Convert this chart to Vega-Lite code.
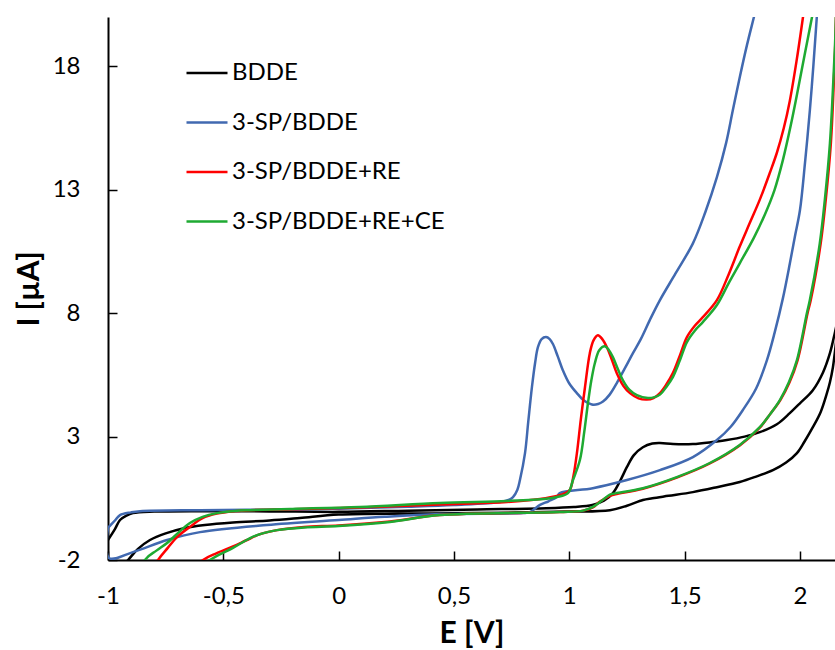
{
  "$schema": "https://vega.github.io/schema/vega-lite/v6.json",
  "width": 727,
  "height": 543,
  "autosize": {"type": "none"},
  "padding": {"left": 108, "top": 17, "right": 0, "bottom": 90},
  "background": "white",
  "config": {"view": {"stroke": null}, "font": "Lato"},
  "datasets": {
    "cv": [
      {"s":"BDDE","i":0,"E":-1.0,"I":-1.19},{"s":"BDDE","i":1,"E":-0.97,"I":-0.75},{"s":"BDDE","i":2,"E":-0.948,"I":-0.38},{"s":"BDDE","i":3,"E":-0.92,"I":-0.2},{"s":"BDDE","i":4,"E":-0.892,"I":-0.1},{"s":"BDDE","i":5,"E":-0.8,"I":-0.04},{"s":"BDDE","i":6,"E":-0.6,"I":-0.02},{"s":"BDDE","i":7,"E":-0.3,"I":-0.03},{"s":"BDDE","i":8,"E":0.0,"I":-0.05},{"s":"BDDE","i":9,"E":0.3,"I":0.0},{"s":"BDDE","i":10,"E":0.6,"I":0.05},{"s":"BDDE","i":11,"E":0.9,"I":0.1},{"s":"BDDE","i":12,"E":1.02,"I":0.15},{"s":"BDDE","i":13,"E":1.1,"I":0.23},{"s":"BDDE","i":14,"E":1.15,"I":0.4},{"s":"BDDE","i":15,"E":1.189,"I":0.71},{"s":"BDDE","i":16,"E":1.22,"I":1.2},{"s":"BDDE","i":17,"E":1.25,"I":1.77},{"s":"BDDE","i":18,"E":1.28,"I":2.25},{"s":"BDDE","i":19,"E":1.319,"I":2.57},{"s":"BDDE","i":20,"E":1.36,"I":2.72},{"s":"BDDE","i":21,"E":1.393,"I":2.74},{"s":"BDDE","i":22,"E":1.45,"I":2.7},{"s":"BDDE","i":23,"E":1.536,"I":2.7},{"s":"BDDE","i":24,"E":1.62,"I":2.78},{"s":"BDDE","i":25,"E":1.683,"I":2.86},{"s":"BDDE","i":26,"E":1.76,"I":3.0},{"s":"BDDE","i":27,"E":1.826,"I":3.18},{"s":"BDDE","i":28,"E":1.9,"I":3.5},{"s":"BDDE","i":29,"E":1.956,"I":3.95},{"s":"BDDE","i":30,"E":2.0,"I":4.35},{"s":"BDDE","i":31,"E":2.056,"I":4.88},{"s":"BDDE","i":32,"E":2.1,"I":5.6},{"s":"BDDE","i":33,"E":2.13,"I":6.38},{"s":"BDDE","i":34,"E":2.151,"I":7.19},{"s":"BDDE","i":35,"E":2.17,"I":8.0},{"s":"BDDE","i":36,"E":2.2,"I":9.0},{"s":"BDDE","i":37,"E":2.165,"I":7.4},{"s":"BDDE","i":38,"E":2.151,"I":6.38},{"s":"BDDE","i":39,"E":2.143,"I":5.81},{"s":"BDDE","i":40,"E":2.13,"I":5.2},{"s":"BDDE","i":41,"E":2.117,"I":4.76},{"s":"BDDE","i":42,"E":2.09,"I":4.0},{"s":"BDDE","i":43,"E":2.056,"I":3.38},{"s":"BDDE","i":44,"E":2.02,"I":2.8},{"s":"BDDE","i":45,"E":1.987,"I":2.33},{"s":"BDDE","i":46,"E":1.94,"I":1.95},{"s":"BDDE","i":47,"E":1.883,"I":1.64},{"s":"BDDE","i":48,"E":1.81,"I":1.38},{"s":"BDDE","i":49,"E":1.739,"I":1.16},{"s":"BDDE","i":50,"E":1.64,"I":0.95},{"s":"BDDE","i":51,"E":1.536,"I":0.75},{"s":"BDDE","i":52,"E":1.43,"I":0.6},{"s":"BDDE","i":53,"E":1.36,"I":0.5},{"s":"BDDE","i":54,"E":1.319,"I":0.43},{"s":"BDDE","i":55,"E":1.25,"I":0.2},{"s":"BDDE","i":56,"E":1.176,"I":0.02},{"s":"BDDE","i":57,"E":1.0,"I":-0.04},{"s":"BDDE","i":58,"E":0.582,"I":-0.1},{"s":"BDDE","i":59,"E":0.3,"I":-0.12},{"s":"BDDE","i":60,"E":0.0,"I":-0.16},{"s":"BDDE","i":61,"E":-0.168,"I":-0.3},{"s":"BDDE","i":62,"E":-0.3,"I":-0.4},{"s":"BDDE","i":63,"E":-0.458,"I":-0.48},{"s":"BDDE","i":64,"E":-0.58,"I":-0.58},{"s":"BDDE","i":65,"E":-0.675,"I":-0.72},{"s":"BDDE","i":66,"E":-0.75,"I":-0.92},{"s":"BDDE","i":67,"E":-0.818,"I":-1.19},{"s":"BDDE","i":68,"E":-0.87,"I":-1.55},{"s":"BDDE","i":69,"E":-0.913,"I":-2.0},{"s":"BDDE","i":70,"E":-1.0,"I":-2.9},

      {"s":"3-SP/BDDE","i":0,"E":-1.0,"I":-0.7},{"s":"3-SP/BDDE","i":1,"E":-0.97,"I":-0.4},{"s":"3-SP/BDDE","i":2,"E":-0.948,"I":-0.18},{"s":"3-SP/BDDE","i":3,"E":-0.9,"I":-0.07},{"s":"3-SP/BDDE","i":4,"E":-0.861,"I":-0.02},{"s":"3-SP/BDDE","i":5,"E":-0.6,"I":0.02},{"s":"3-SP/BDDE","i":6,"E":-0.3,"I":0.04},{"s":"3-SP/BDDE","i":7,"E":0.0,"I":0.08},{"s":"3-SP/BDDE","i":8,"E":0.3,"I":0.16},{"s":"3-SP/BDDE","i":9,"E":0.5,"I":0.23},{"s":"3-SP/BDDE","i":10,"E":0.699,"I":0.35},{"s":"3-SP/BDDE","i":11,"E":0.74,"I":0.45},{"s":"3-SP/BDDE","i":12,"E":0.756,"I":0.55},{"s":"3-SP/BDDE","i":13,"E":0.775,"I":0.85},{"s":"3-SP/BDDE","i":14,"E":0.786,"I":1.24},{"s":"3-SP/BDDE","i":15,"E":0.808,"I":2.33},{"s":"3-SP/BDDE","i":16,"E":0.822,"I":3.6},{"s":"3-SP/BDDE","i":17,"E":0.838,"I":5.0},{"s":"3-SP/BDDE","i":18,"E":0.852,"I":6.0},{"s":"3-SP/BDDE","i":19,"E":0.864,"I":6.62},{"s":"3-SP/BDDE","i":20,"E":0.88,"I":6.95},{"s":"3-SP/BDDE","i":21,"E":0.899,"I":7.03},{"s":"3-SP/BDDE","i":22,"E":0.915,"I":6.95},{"s":"3-SP/BDDE","i":23,"E":0.929,"I":6.75},{"s":"3-SP/BDDE","i":24,"E":0.95,"I":6.25},{"s":"3-SP/BDDE","i":25,"E":0.972,"I":5.69},{"s":"3-SP/BDDE","i":26,"E":1.0,"I":5.15},{"s":"3-SP/BDDE","i":27,"E":1.033,"I":4.76},{"s":"3-SP/BDDE","i":28,"E":1.065,"I":4.45},{"s":"3-SP/BDDE","i":29,"E":1.098,"I":4.3},{"s":"3-SP/BDDE","i":30,"E":1.125,"I":4.32},{"s":"3-SP/BDDE","i":31,"E":1.146,"I":4.42},{"s":"3-SP/BDDE","i":32,"E":1.175,"I":4.7},{"s":"3-SP/BDDE","i":33,"E":1.206,"I":5.17},{"s":"3-SP/BDDE","i":34,"E":1.24,"I":5.75},{"s":"3-SP/BDDE","i":35,"E":1.276,"I":6.38},{"s":"3-SP/BDDE","i":36,"E":1.31,"I":6.95},{"s":"3-SP/BDDE","i":37,"E":1.349,"I":7.72},{"s":"3-SP/BDDE","i":38,"E":1.393,"I":8.53},{"s":"3-SP/BDDE","i":39,"E":1.46,"I":9.6},{"s":"3-SP/BDDE","i":40,"E":1.536,"I":10.83},{"s":"3-SP/BDDE","i":41,"E":1.59,"I":12.1},{"s":"3-SP/BDDE","i":42,"E":1.64,"I":13.51},{"s":"3-SP/BDDE","i":43,"E":1.68,"I":14.9},{"s":"3-SP/BDDE","i":44,"E":1.709,"I":16.22},{"s":"3-SP/BDDE","i":45,"E":1.74,"I":17.6},{"s":"3-SP/BDDE","i":46,"E":1.77,"I":18.85},{"s":"3-SP/BDDE","i":47,"E":1.8,"I":19.98},{"s":"3-SP/BDDE","i":48,"E":1.83,"I":21.1},{"s":"3-SP/BDDE","i":49,"E":1.95,"I":23.0},{"s":"3-SP/BDDE","i":50,"E":2.088,"I":22.0},{"s":"3-SP/BDDE","i":51,"E":2.073,"I":19.98},{"s":"3-SP/BDDE","i":52,"E":2.058,"I":18.0},{"s":"3-SP/BDDE","i":53,"E":2.043,"I":16.22},{"s":"3-SP/BDDE","i":54,"E":2.022,"I":14.1},{"s":"3-SP/BDDE","i":55,"E":2.0,"I":12.17},{"s":"3-SP/BDDE","i":56,"E":1.978,"I":11.1},{"s":"3-SP/BDDE","i":57,"E":1.956,"I":10.0},{"s":"3-SP/BDDE","i":58,"E":1.926,"I":8.6},{"s":"3-SP/BDDE","i":59,"E":1.89,"I":7.2},{"s":"3-SP/BDDE","i":60,"E":1.857,"I":6.1},{"s":"3-SP/BDDE","i":61,"E":1.81,"I":4.95},{"s":"3-SP/BDDE","i":62,"E":1.752,"I":4.07},{"s":"3-SP/BDDE","i":63,"E":1.7,"I":3.4},{"s":"3-SP/BDDE","i":64,"E":1.64,"I":2.86},{"s":"3-SP/BDDE","i":65,"E":1.536,"I":2.17},{"s":"3-SP/BDDE","i":66,"E":1.393,"I":1.64},{"s":"3-SP/BDDE","i":67,"E":1.25,"I":1.24},{"s":"3-SP/BDDE","i":68,"E":1.102,"I":0.91},{"s":"3-SP/BDDE","i":69,"E":0.959,"I":0.71},{"s":"3-SP/BDDE","i":70,"E":0.946,"I":0.55},{"s":"3-SP/BDDE","i":71,"E":0.91,"I":0.38},{"s":"3-SP/BDDE","i":72,"E":0.873,"I":0.23},{"s":"3-SP/BDDE","i":73,"E":0.829,"I":-0.06},{"s":"3-SP/BDDE","i":74,"E":0.8,"I":-0.1},{"s":"3-SP/BDDE","i":75,"E":0.439,"I":-0.14},{"s":"3-SP/BDDE","i":76,"E":0.2,"I":-0.25},{"s":"3-SP/BDDE","i":77,"E":0.0,"I":-0.38},{"s":"3-SP/BDDE","i":78,"E":-0.311,"I":-0.58},{"s":"3-SP/BDDE","i":79,"E":-0.601,"I":-0.87},{"s":"3-SP/BDDE","i":80,"E":-0.744,"I":-1.19},{"s":"3-SP/BDDE","i":81,"E":-0.892,"I":-1.68},{"s":"3-SP/BDDE","i":82,"E":-0.996,"I":-1.92},{"s":"3-SP/BDDE","i":83,"E":-1.0,"I":-0.7},

      {"s":"3-SP/BDDE+RE","i":0,"E":-1.0,"I":-5.5},{"s":"3-SP/BDDE+RE","i":1,"E":-0.783,"I":-2.0},{"s":"3-SP/BDDE+RE","i":2,"E":-0.74,"I":-1.5},{"s":"3-SP/BDDE+RE","i":3,"E":-0.701,"I":-1.07},{"s":"3-SP/BDDE+RE","i":4,"E":-0.645,"I":-0.66},{"s":"3-SP/BDDE+RE","i":5,"E":-0.59,"I":-0.3},{"s":"3-SP/BDDE+RE","i":6,"E":-0.528,"I":-0.12},{"s":"3-SP/BDDE+RE","i":7,"E":-0.45,"I":-0.02},{"s":"3-SP/BDDE+RE","i":8,"E":-0.384,"I":0.02},{"s":"3-SP/BDDE+RE","i":9,"E":-0.2,"I":0.06},{"s":"3-SP/BDDE+RE","i":10,"E":0.092,"I":0.13},{"s":"3-SP/BDDE+RE","i":11,"E":0.439,"I":0.25},{"s":"3-SP/BDDE+RE","i":12,"E":0.73,"I":0.35},{"s":"3-SP/BDDE+RE","i":13,"E":0.873,"I":0.47},{"s":"3-SP/BDDE+RE","i":14,"E":0.95,"I":0.6},{"s":"3-SP/BDDE+RE","i":15,"E":0.985,"I":0.72},{"s":"3-SP/BDDE+RE","i":16,"E":1.003,"I":0.85},{"s":"3-SP/BDDE+RE","i":17,"E":1.018,"I":1.4},{"s":"3-SP/BDDE+RE","i":18,"E":1.033,"I":2.33},{"s":"3-SP/BDDE+RE","i":19,"E":1.05,"I":3.7},{"s":"3-SP/BDDE+RE","i":20,"E":1.068,"I":5.0},{"s":"3-SP/BDDE+RE","i":21,"E":1.089,"I":6.38},{"s":"3-SP/BDDE+RE","i":22,"E":1.105,"I":6.9},{"s":"3-SP/BDDE+RE","i":23,"E":1.124,"I":7.11},{"s":"3-SP/BDDE+RE","i":24,"E":1.143,"I":6.95},{"s":"3-SP/BDDE+RE","i":25,"E":1.163,"I":6.62},{"s":"3-SP/BDDE+RE","i":26,"E":1.185,"I":6.1},{"s":"3-SP/BDDE+RE","i":27,"E":1.206,"I":5.57},{"s":"3-SP/BDDE+RE","i":28,"E":1.235,"I":5.05},{"s":"3-SP/BDDE+RE","i":29,"E":1.263,"I":4.76},{"s":"3-SP/BDDE+RE","i":30,"E":1.3,"I":4.55},{"s":"3-SP/BDDE+RE","i":31,"E":1.336,"I":4.5},{"s":"3-SP/BDDE+RE","i":32,"E":1.365,"I":4.56},{"s":"3-SP/BDDE+RE","i":33,"E":1.393,"I":4.76},{"s":"3-SP/BDDE+RE","i":34,"E":1.42,"I":5.1},{"s":"3-SP/BDDE+RE","i":35,"E":1.449,"I":5.57},{"s":"3-SP/BDDE+RE","i":36,"E":1.48,"I":6.3},{"s":"3-SP/BDDE+RE","i":37,"E":1.51,"I":7.03},{"s":"3-SP/BDDE+RE","i":38,"E":1.545,"I":7.5},{"s":"3-SP/BDDE+RE","i":39,"E":1.579,"I":7.84},{"s":"3-SP/BDDE+RE","i":40,"E":1.64,"I":8.53},{"s":"3-SP/BDDE+RE","i":41,"E":1.69,"I":9.55},{"s":"3-SP/BDDE+RE","i":42,"E":1.739,"I":10.7},{"s":"3-SP/BDDE+RE","i":43,"E":1.78,"I":11.6},{"s":"3-SP/BDDE+RE","i":44,"E":1.826,"I":12.6},{"s":"3-SP/BDDE+RE","i":45,"E":1.87,"I":13.7},{"s":"3-SP/BDDE+RE","i":46,"E":1.9,"I":14.5},{"s":"3-SP/BDDE+RE","i":47,"E":1.93,"I":15.5},{"s":"3-SP/BDDE+RE","i":48,"E":1.956,"I":16.6},{"s":"3-SP/BDDE+RE","i":49,"E":1.985,"I":18.2},{"s":"3-SP/BDDE+RE","i":50,"E":2.013,"I":19.98},{"s":"3-SP/BDDE+RE","i":51,"E":2.04,"I":21.8},{"s":"3-SP/BDDE+RE","i":52,"E":2.2,"I":23.5},{"s":"3-SP/BDDE+RE","i":53,"E":2.165,"I":21.5},{"s":"3-SP/BDDE+RE","i":54,"E":2.151,"I":18.3},{"s":"3-SP/BDDE+RE","i":55,"E":2.134,"I":14.88},{"s":"3-SP/BDDE+RE","i":56,"E":2.112,"I":12.6},{"s":"3-SP/BDDE+RE","i":57,"E":2.09,"I":10.83},{"s":"3-SP/BDDE+RE","i":58,"E":2.047,"I":8.53},{"s":"3-SP/BDDE+RE","i":59,"E":2.033,"I":8.0},{"s":"3-SP/BDDE+RE","i":60,"E":1.99,"I":6.1},{"s":"3-SP/BDDE+RE","i":61,"E":1.955,"I":5.2},{"s":"3-SP/BDDE+RE","i":62,"E":1.915,"I":4.48},{"s":"3-SP/BDDE+RE","i":63,"E":1.87,"I":3.9},{"s":"3-SP/BDDE+RE","i":64,"E":1.826,"I":3.36},{"s":"3-SP/BDDE+RE","i":65,"E":1.739,"I":2.64},{"s":"3-SP/BDDE+RE","i":66,"E":1.609,"I":1.91},{"s":"3-SP/BDDE+RE","i":67,"E":1.466,"I":1.34},{"s":"3-SP/BDDE+RE","i":68,"E":1.319,"I":0.89},{"s":"3-SP/BDDE+RE","i":69,"E":1.2,"I":0.66},{"s":"3-SP/BDDE+RE","i":70,"E":1.176,"I":0.6},{"s":"3-SP/BDDE+RE","i":71,"E":1.13,"I":0.35},{"s":"3-SP/BDDE+RE","i":72,"E":1.102,"I":0.13},{"s":"3-SP/BDDE+RE","i":73,"E":1.06,"I":0.0},{"s":"3-SP/BDDE+RE","i":74,"E":0.959,"I":-0.06},{"s":"3-SP/BDDE+RE","i":75,"E":0.439,"I":-0.18},{"s":"3-SP/BDDE+RE","i":76,"E":0.222,"I":-0.44},{"s":"3-SP/BDDE+RE","i":77,"E":0.0,"I":-0.6},{"s":"3-SP/BDDE+RE","i":78,"E":-0.15,"I":-0.66},{"s":"3-SP/BDDE+RE","i":79,"E":-0.267,"I":-0.79},{"s":"3-SP/BDDE+RE","i":80,"E":-0.34,"I":-0.95},{"s":"3-SP/BDDE+RE","i":81,"E":-0.4,"I":-1.2},{"s":"3-SP/BDDE+RE","i":82,"E":-0.458,"I":-1.45},{"s":"3-SP/BDDE+RE","i":83,"E":-0.528,"I":-1.72},{"s":"3-SP/BDDE+RE","i":84,"E":-0.588,"I":-2.0},{"s":"3-SP/BDDE+RE","i":85,"E":-1.0,"I":-5.5},

      {"s":"3-SP/BDDE+RE+CE","i":0,"E":-1.0,"I":-5.5},{"s":"3-SP/BDDE+RE+CE","i":1,"E":-0.84,"I":-2.0},{"s":"3-SP/BDDE+RE+CE","i":2,"E":-0.79,"I":-1.62},{"s":"3-SP/BDDE+RE+CE","i":3,"E":-0.744,"I":-1.31},{"s":"3-SP/BDDE+RE+CE","i":4,"E":-0.69,"I":-0.85},{"s":"3-SP/BDDE+RE+CE","i":5,"E":-0.645,"I":-0.5},{"s":"3-SP/BDDE+RE+CE","i":6,"E":-0.59,"I":-0.25},{"s":"3-SP/BDDE+RE+CE","i":7,"E":-0.528,"I":-0.1},{"s":"3-SP/BDDE+RE+CE","i":8,"E":-0.45,"I":-0.01},{"s":"3-SP/BDDE+RE+CE","i":9,"E":-0.384,"I":0.02},{"s":"3-SP/BDDE+RE+CE","i":10,"E":-0.2,"I":0.07},{"s":"3-SP/BDDE+RE+CE","i":11,"E":0.092,"I":0.15},{"s":"3-SP/BDDE+RE+CE","i":12,"E":0.439,"I":0.31},{"s":"3-SP/BDDE+RE+CE","i":13,"E":0.73,"I":0.39},{"s":"3-SP/BDDE+RE+CE","i":14,"E":0.9,"I":0.48},{"s":"3-SP/BDDE+RE+CE","i":15,"E":0.946,"I":0.55},{"s":"3-SP/BDDE+RE+CE","i":16,"E":0.994,"I":0.71},{"s":"3-SP/BDDE+RE+CE","i":17,"E":1.016,"I":1.24},{"s":"3-SP/BDDE+RE+CE","i":18,"E":1.046,"I":2.05},{"s":"3-SP/BDDE+RE+CE","i":19,"E":1.065,"I":3.2},{"s":"3-SP/BDDE+RE+CE","i":20,"E":1.081,"I":4.36},{"s":"3-SP/BDDE+RE+CE","i":21,"E":1.096,"I":5.3},{"s":"3-SP/BDDE+RE+CE","i":22,"E":1.111,"I":5.98},{"s":"3-SP/BDDE+RE+CE","i":23,"E":1.13,"I":6.5},{"s":"3-SP/BDDE+RE+CE","i":24,"E":1.154,"I":6.66},{"s":"3-SP/BDDE+RE+CE","i":25,"E":1.172,"I":6.5},{"s":"3-SP/BDDE+RE+CE","i":26,"E":1.189,"I":6.22},{"s":"3-SP/BDDE+RE+CE","i":27,"E":1.21,"I":5.75},{"s":"3-SP/BDDE+RE+CE","i":28,"E":1.232,"I":5.29},{"s":"3-SP/BDDE+RE+CE","i":29,"E":1.26,"I":4.9},{"s":"3-SP/BDDE+RE+CE","i":30,"E":1.293,"I":4.68},{"s":"3-SP/BDDE+RE+CE","i":31,"E":1.341,"I":4.56},{"s":"3-SP/BDDE+RE+CE","i":32,"E":1.37,"I":4.6},{"s":"3-SP/BDDE+RE+CE","i":33,"E":1.393,"I":4.7},{"s":"3-SP/BDDE+RE+CE","i":34,"E":1.42,"I":5.0},{"s":"3-SP/BDDE+RE+CE","i":35,"E":1.449,"I":5.41},{"s":"3-SP/BDDE+RE+CE","i":36,"E":1.48,"I":6.1},{"s":"3-SP/BDDE+RE+CE","i":37,"E":1.51,"I":6.83},{"s":"3-SP/BDDE+RE+CE","i":38,"E":1.545,"I":7.3},{"s":"3-SP/BDDE+RE+CE","i":39,"E":1.579,"I":7.64},{"s":"3-SP/BDDE+RE+CE","i":40,"E":1.64,"I":8.33},{"s":"3-SP/BDDE+RE+CE","i":41,"E":1.69,"I":9.2},{"s":"3-SP/BDDE+RE+CE","i":42,"E":1.739,"I":10.02},{"s":"3-SP/BDDE+RE+CE","i":43,"E":1.8,"I":11.05},{"s":"3-SP/BDDE+RE+CE","i":44,"E":1.848,"I":12.0},{"s":"3-SP/BDDE+RE+CE","i":45,"E":1.89,"I":13.0},{"s":"3-SP/BDDE+RE+CE","i":46,"E":1.926,"I":14.2},{"s":"3-SP/BDDE+RE+CE","i":47,"E":1.96,"I":15.6},{"s":"3-SP/BDDE+RE+CE","i":48,"E":1.987,"I":16.85},{"s":"3-SP/BDDE+RE+CE","i":49,"E":2.02,"I":18.45},{"s":"3-SP/BDDE+RE+CE","i":50,"E":2.052,"I":19.98},{"s":"3-SP/BDDE+RE+CE","i":51,"E":2.08,"I":21.4},{"s":"3-SP/BDDE+RE+CE","i":52,"E":2.2,"I":23.5},{"s":"3-SP/BDDE+RE+CE","i":53,"E":2.17,"I":22.4},{"s":"3-SP/BDDE+RE+CE","i":54,"E":2.151,"I":18.65},{"s":"3-SP/BDDE+RE+CE","i":55,"E":2.13,"I":14.88},{"s":"3-SP/BDDE+RE+CE","i":56,"E":2.108,"I":12.6},{"s":"3-SP/BDDE+RE+CE","i":57,"E":2.086,"I":10.83},{"s":"3-SP/BDDE+RE+CE","i":58,"E":2.043,"I":8.53},{"s":"3-SP/BDDE+RE+CE","i":59,"E":2.03,"I":8.0},{"s":"3-SP/BDDE+RE+CE","i":60,"E":1.987,"I":6.1},{"s":"3-SP/BDDE+RE+CE","i":61,"E":1.952,"I":5.2},{"s":"3-SP/BDDE+RE+CE","i":62,"E":1.913,"I":4.48},{"s":"3-SP/BDDE+RE+CE","i":63,"E":1.87,"I":3.9},{"s":"3-SP/BDDE+RE+CE","i":64,"E":1.826,"I":3.38},{"s":"3-SP/BDDE+RE+CE","i":65,"E":1.739,"I":2.66},{"s":"3-SP/BDDE+RE+CE","i":66,"E":1.609,"I":1.93},{"s":"3-SP/BDDE+RE+CE","i":67,"E":1.466,"I":1.36},{"s":"3-SP/BDDE+RE+CE","i":68,"E":1.319,"I":0.91},{"s":"3-SP/BDDE+RE+CE","i":69,"E":1.2,"I":0.7},{"s":"3-SP/BDDE+RE+CE","i":70,"E":1.176,"I":0.65},{"s":"3-SP/BDDE+RE+CE","i":71,"E":1.14,"I":0.4},{"s":"3-SP/BDDE+RE+CE","i":72,"E":1.102,"I":0.15},{"s":"3-SP/BDDE+RE+CE","i":73,"E":1.06,"I":0.0},{"s":"3-SP/BDDE+RE+CE","i":74,"E":0.959,"I":-0.06},{"s":"3-SP/BDDE+RE+CE","i":75,"E":0.439,"I":-0.18},{"s":"3-SP/BDDE+RE+CE","i":76,"E":0.222,"I":-0.46},{"s":"3-SP/BDDE+RE+CE","i":77,"E":0.0,"I":-0.62},{"s":"3-SP/BDDE+RE+CE","i":78,"E":-0.15,"I":-0.68},{"s":"3-SP/BDDE+RE+CE","i":79,"E":-0.267,"I":-0.79},{"s":"3-SP/BDDE+RE+CE","i":80,"E":-0.33,"I":-0.92},{"s":"3-SP/BDDE+RE+CE","i":81,"E":-0.384,"I":-1.11},{"s":"3-SP/BDDE+RE+CE","i":82,"E":-0.458,"I":-1.51},{"s":"3-SP/BDDE+RE+CE","i":83,"E":-0.558,"I":-2.0},{"s":"3-SP/BDDE+RE+CE","i":84,"E":-1.0,"I":-5.5}
    ]
  },
  "layer": [
    {
      "data": {"name": "cv"},
      "mark": {"type": "line", "clip": true, "strokeWidth": 2.5, "interpolate": "catmull-rom"},
      "encoding": {
        "x": {
          "field": "E", "type": "quantitative",
          "scale": {"domain": [-1, 2.152], "nice": false, "zero": false},
          "axis": {
            "values": [-1, -0.5, 0, 0.5, 1, 1.5, 2],
            "labelExpr": "datum.value < 0 ? '-' + replace(format(-datum.value, '~g'), '.', ',') : replace(format(datum.value, '~g'), '.', ',')",
            "grid": false, "domainColor": "black", "domainWidth": 2,
            "tickColor": "black", "tickWidth": 1.5, "tickSize": -9,
            "labelFont": "Lato", "labelFontSize": 24, "labelColor": "black", "labelPadding": 33,
            "labelFlush": false, "labelOverlap": false,
            "title": "E [V]", "titleFont": "Lato", "titleFontSize": 30, "titleFontWeight": "bold",
            "titleColor": "black", "titlePadding": 10
          }
        },
        "y": {
          "field": "I", "type": "quantitative",
          "scale": {"domain": [-2, 20], "nice": false, "zero": false},
          "axis": {
            "values": [-2, 3, 8, 13, 18],
            "labelExpr": "datum.value < 0 ? '-' + format(-datum.value, 'd') : format(datum.value, 'd')",
            "grid": false, "domainColor": "black", "domainWidth": 2,
            "tickColor": "black", "tickWidth": 1.5, "tickSize": -9,
            "labelFont": "Lato", "labelFontSize": 24, "labelColor": "black", "labelPadding": 37,
            "labelFlush": false, "labelOverlap": false,
            "title": "I [µA]", "titleFont": "Lato", "titleFontSize": 30, "titleFontWeight": "bold",
            "titleColor": "black", "titlePadding": 8
          }
        },
        "order": {"field": "i", "type": "quantitative"},
        "color": {
          "field": "s", "type": "nominal",
          "scale": {
            "domain": ["BDDE", "3-SP/BDDE", "3-SP/BDDE+RE", "3-SP/BDDE+RE+CE"],
            "range": ["#000000", "#4169B0", "#FF0000", "#1EAA32"]
          },
          "legend": {
            "orient": "none", "legendX": 77, "legendY": 34, "title": null, "padding": 0,
            "symbolType": "stroke", "symbolSize": 1681, "symbolStrokeWidth": 2.5,
            "labelFont": "Lato", "labelFontSize": 24, "labelColor": "black", "labelOffset": 3,
            "rowPadding": 15.5, "labelLimit": 400
          }
        }
      }
    },
    {
      "mark": {"type": "rule", "color": "black", "strokeWidth": 2},
      "encoding": {"y": {"datum": 20, "type": "quantitative"}}
    }
  ]
}
